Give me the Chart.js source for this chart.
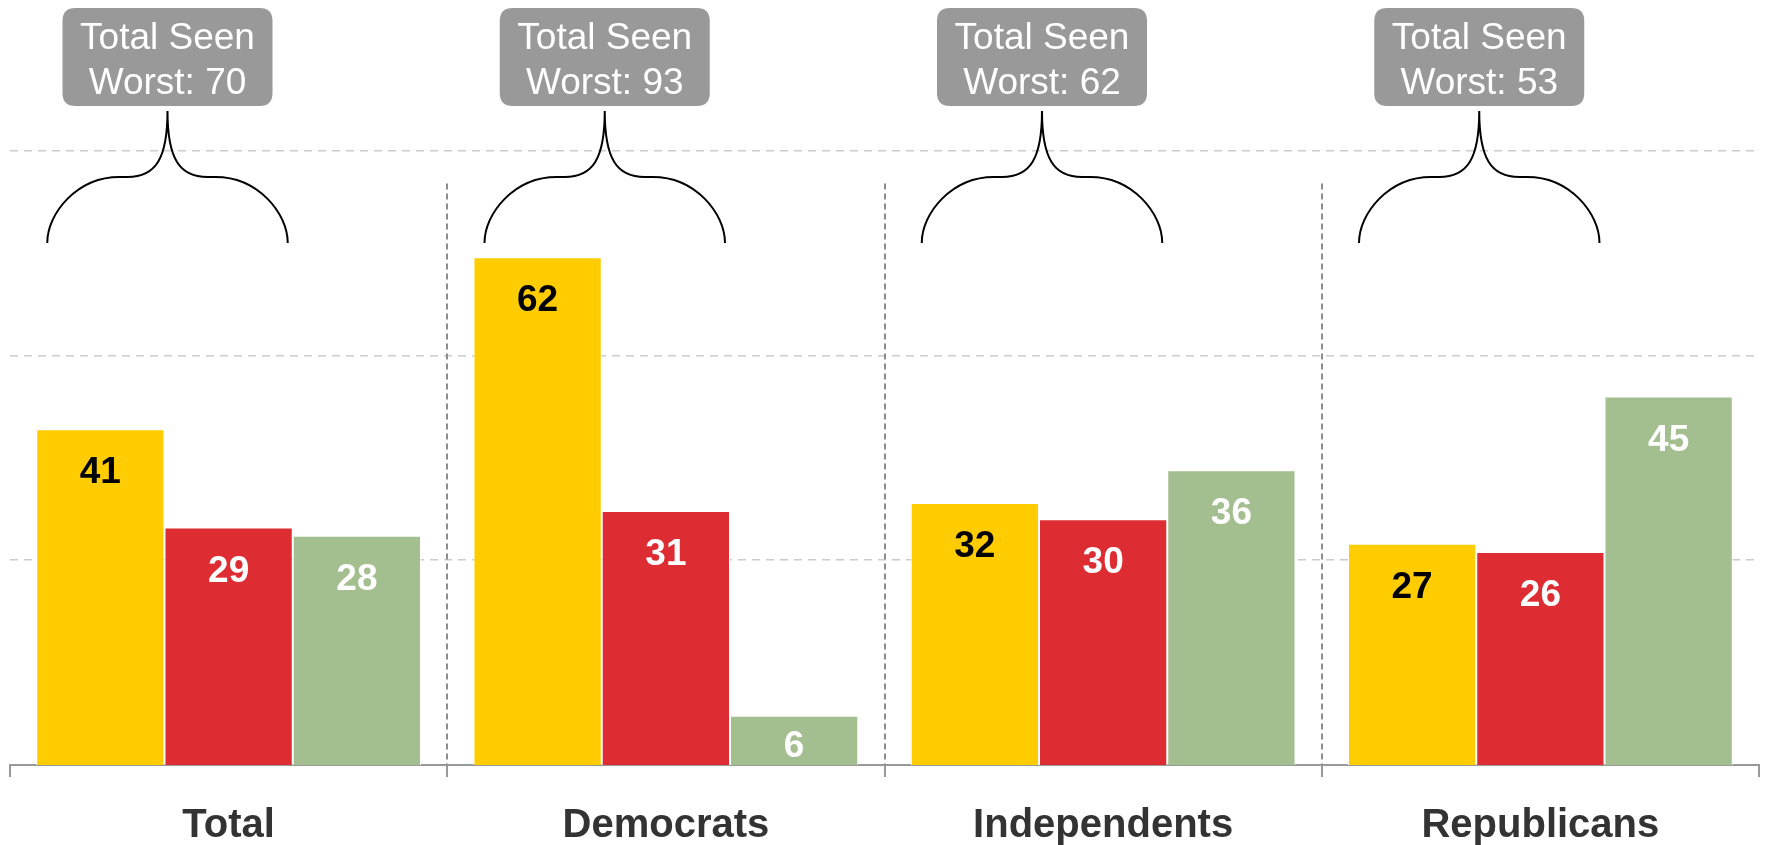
<!DOCTYPE html>
<html>
<head>
<meta charset="utf-8">
<script src="https://cdn.jsdelivr.net/npm/chart.js@4"></script>
<style>
  html, body { margin: 0; padding: 0; background: #fff; }
  #wrap { width: 1765px; height: 845px; position: relative; }
</style>
</head>
<body>
<div id="wrap"><canvas id="chart"></canvas></div>
<script>
const categories = ['Total', 'Democrats', 'Independents', 'Republicans'];
const worstValues = [41, 62, 32, 27];
const secondValues = [29, 31, 30, 26];
const thirdValues = [28, 6, 36, 45];
const totalSeenWorst = [70, 93, 62, 53];
const gridValues = [25, 50, 75];

const FONT = '"Liberation Sans", Arial, sans-serif';

function roundRect(ctx, x, y, w, h, r) {
  ctx.beginPath();
  ctx.moveTo(x + r, y);
  ctx.lineTo(x + w - r, y);
  ctx.quadraticCurveTo(x + w, y, x + w, y + r);
  ctx.lineTo(x + w, y + h - r);
  ctx.quadraticCurveTo(x + w, y + h, x + w - r, y + h);
  ctx.lineTo(x + r, y + h);
  ctx.quadraticCurveTo(x, y + h, x, y + h - r);
  ctx.lineTo(x, y + r);
  ctx.quadraticCurveTo(x, y, x + r, y);
  ctx.closePath();
}

function drawBrace(ctx, cx, half, tipY, midY, endY) {
  const inner = 48;
  const r = endY - midY;
  ctx.beginPath();
  for (const s of [-1, 1]) {
    ctx.moveTo(cx, tipY);
    ctx.bezierCurveTo(cx, tipY + 48, cx + s * 12, midY, cx + s * 40, midY);
    ctx.lineTo(cx + s * inner, midY);
    ctx.bezierCurveTo(cx + s * (half - r * 0.45), midY, cx + s * half, endY - r * 0.45, cx + s * half, endY);
  }
  ctx.stroke();
}

const annotations = {
  id: 'annotations',
  beforeDatasetsDraw(chart) {
    const { ctx, scales: { x, y }, chartArea } = chart;
    ctx.save();
    ctx.strokeStyle = '#8c8c8c';
    ctx.lineWidth = 2;
    ctx.setLineDash([6, 4]);
    for (let i = 0; i < categories.length - 1; i++) {
      const px = Math.round((x.getPixelForValue(i) + x.getPixelForValue(i + 1)) / 2);
      ctx.beginPath();
      ctx.moveTo(px, y.getPixelForValue(71));
      ctx.lineTo(px, chartArea.bottom);
      ctx.stroke();
    }
    ctx.restore();
  },
  afterDatasetsDraw(chart) {
    const { ctx } = chart;
    ctx.save();
    // value labels
    ctx.font = 'bold 37px ' + FONT;
    ctx.textAlign = 'center';
    ctx.textBaseline = 'middle';
    chart.data.datasets.forEach((ds, di) => {
      const meta = chart.getDatasetMeta(di);
      meta.data.forEach((bar, i) => {
        const top = bar.y;
        const bottom = bar.base;
        const ly = Math.min(top + 44, (top + bottom) / 2 + 6);
        ctx.fillStyle = ds.labelColor;
        ctx.fillText(String(ds.data[i]), bar.x, ly);
      });
    });
    // braces and callouts
    const m0 = chart.getDatasetMeta(0);
    const m1 = chart.getDatasetMeta(1);
    for (let i = 0; i < categories.length; i++) {
      const b0 = m0.data[i];
      const b1 = m1.data[i];
      const left = b0.x - b0.width / 2;
      const right = b1.x + b1.width / 2;
      const cx = (left + right) / 2 + 3;
      const half = (right - left) / 2 - 8;
      ctx.strokeStyle = '#000';
      ctx.lineWidth = 2;
      ctx.setLineDash([]);
      drawBrace(ctx, cx, half, 111, 177, 243);

      const bw = 210, bh = 98, bt = 8;
      ctx.fillStyle = '#999999';
      roundRect(ctx, cx - bw / 2, bt, bw, bh, 13);
      ctx.fill();
      ctx.fillStyle = '#ffffff';
      ctx.font = '37px ' + FONT;
      ctx.textAlign = 'center';
      ctx.textBaseline = 'middle';
      ctx.fillText('Total Seen', cx, bt + 31);
      ctx.fillText('Worst: ' + totalSeenWorst[i], cx, bt + 76);
    }
    ctx.restore();
  }
};

new Chart(document.getElementById('chart'), {
  type: 'bar',
  data: {
    labels: categories,
    datasets: [
      { label: 'Worst', data: worstValues, backgroundColor: '#ffcc00', labelColor: '#000000' },
      { label: 'Second', data: secondValues, backgroundColor: '#de2c33', labelColor: '#ffffff' },
      { label: 'Third', data: thirdValues, backgroundColor: '#a3be8f', labelColor: '#ffffff' },
    ].map((d) => Object.assign(d, {
      borderColor: '#ffffff',
      borderWidth: 1,
      borderSkipped: 'start',
      categoryPercentage: 0.88,
      barPercentage: 1.0,
    })),
  },
  options: {
    responsive: true,
    maintainAspectRatio: false,
    animation: false,
    layout: { padding: { left: 10, right: 6, top: 0, bottom: -30 } },
    plugins: { legend: { display: false }, tooltip: { enabled: false } },
    scales: {
      x: {
        grid: {
          drawOnChartArea: false,
          color: '#999999',
          lineWidth: 2,
          tickLength: 12,
        },
        border: { color: '#999999', width: 2 },
        ticks: {
          color: '#333333',
          font: { family: FONT, size: 40, weight: 'bold' },
          padding: 25,
        },
      },
      y: {
        min: 0,
        max: 93.4,
        ticks: { display: false, stepSize: 25 },
        border: { display: false, dash: [8, 6] },
        grid: {
          drawTicks: false,
          lineWidth: 1.5,
          borderDash: [8, 6],
          color: (c) => (gridValues.includes(c.tick && c.tick.value) ? '#cccccc' : 'rgba(0,0,0,0)'),
        },
        afterBuildTicks: (axis) => {
          axis.ticks = gridValues.map((v) => ({ value: v }));
        },
      },
    },
  },
  plugins: [annotations],
});
</script>
</body>
</html>
